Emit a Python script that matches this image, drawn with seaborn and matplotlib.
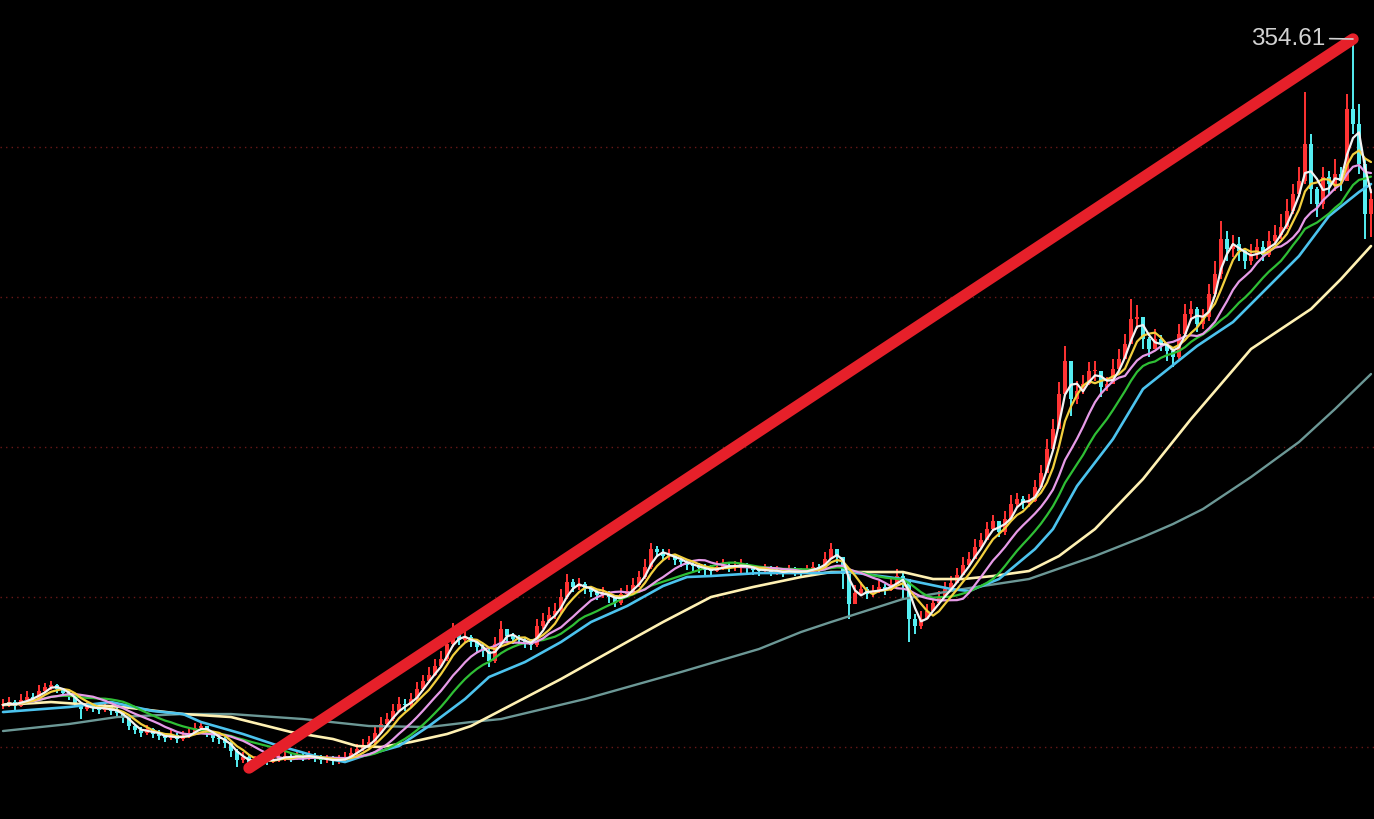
import numpy as np
import pandas as pd
import matplotlib
matplotlib.use("Agg")
import matplotlib.pyplot as plt
import seaborn as sns

# ---------------- data (prices) ----------------
close = [
    88.2, 89.4, 87.8, 90.2, 91.4, 90.6, 93.8, 95.4, 96.2, 94.6,
    93.0, 91.8, 89.0, 86.6, 87.8, 87.0, 86.2, 87.4, 85.8, 85.0,
    83.0, 79.8, 78.2, 77.0, 78.6, 76.6, 75.8, 75.0, 76.2, 74.6,
    75.8, 77.0, 79.0, 79.8, 77.0, 75.0, 74.6, 73.0, 69.8, 66.2,
    67.4, 65.0, 65.8, 66.6, 65.4, 66.6, 67.4, 67.8, 67.0, 68.2,
    67.4, 67.8, 67.0, 66.2, 66.6, 65.8, 66.2, 67.4, 69.0, 70.6,
    72.2, 73.4, 77.0, 80.6, 82.6, 85.8, 88.6, 88.2, 90.6, 94.6,
    97.8, 100.2, 103.8, 106.6, 112.6, 117.0, 114.2, 115.4, 113.4, 111.4,
    109.8, 105.8, 112.6, 118.6, 115.8, 114.6, 114.2, 113.0, 112.2, 119.8,
    121.8, 124.2, 125.8, 131.4, 137.4, 135.4, 136.6, 134.6, 133.4, 132.2,
    133.0, 131.4, 129.0, 132.6, 133.8, 136.2, 139.4, 143.4, 150.6, 149.4,
    147.8, 148.2, 146.2, 145.4, 144.2, 143.8, 143.0, 142.2, 141.8, 143.4,
    144.2, 143.4, 143.8, 144.6, 143.0, 142.2, 141.8, 142.6, 141.4, 141.8,
    141.0, 142.2, 141.4, 141.0, 142.6, 143.4, 143.0, 146.6, 150.6, 147.4,
    140.6, 128.6, 133.0, 134.6, 132.6, 133.8, 135.4, 134.2, 136.6, 139.8,
    138.6, 122.6, 119.8, 122.6, 125.8, 129.0, 131.4, 134.6, 137.0, 140.2,
    144.2, 146.6, 151.4, 154.2, 158.6, 161.8, 157.4, 162.6, 168.6, 170.6,
    169.0, 169.8, 175.4, 181.0, 190.6, 198.6, 212.6, 225.8, 210.6, 213.8,
    216.6, 221.8, 221.8, 215.4, 216.6, 222.6, 226.6, 232.6, 242.6, 243.4,
    234.6, 230.6, 234.6, 232.6, 229.8, 227.4, 236.6, 244.6, 246.6, 240.6,
    243.4, 252.6, 260.6, 274.6, 270.6, 272.6, 269.8, 265.8, 268.6, 271.4,
    268.2, 273.8, 276.2, 279.4, 285.8, 292.6, 297.8, 312.6, 294.6, 288.6,
    299.4, 296.6, 300.6, 297.8, 326.6, 320.6, 304.6, 284.6, 290.6,
]
high = [
    90.6, 91.4, 90.2, 92.6, 93.8, 93.0, 96.2, 97.0, 97.8, 96.6,
    95.0, 94.2, 92.2, 89.0, 89.8, 89.0, 88.2, 89.4, 87.8, 87.0,
    85.8, 83.4, 80.6, 79.4, 80.2, 79.0, 78.2, 77.0, 78.2, 77.0,
    77.8, 79.0, 81.0, 81.8, 79.4, 77.4, 76.6, 75.4, 73.8, 70.6,
    69.4, 68.2, 67.8, 68.6, 67.8, 68.6, 69.4, 69.8, 69.0, 70.2,
    69.4, 69.8, 69.0, 68.2, 68.2, 67.8, 68.2, 69.4, 71.0, 72.6,
    74.6, 75.8, 79.4, 83.4, 85.0, 88.6, 91.4, 90.6, 93.0, 97.4,
    100.2, 103.4, 106.6, 109.8, 115.8, 121.0, 117.4, 117.8, 116.2, 114.2,
    112.6, 110.6, 115.4, 121.8, 118.6, 117.0, 116.2, 115.4, 114.6, 122.6,
    125.0, 127.4, 129.0, 134.6, 140.6, 138.6, 139.0, 137.4, 135.8, 134.6,
    135.4, 133.8, 132.2, 135.0, 136.2, 139.0, 141.8, 146.6, 153.0, 151.8,
    150.6, 150.6, 148.6, 147.4, 146.2, 146.2, 145.0, 144.6, 144.2, 145.8,
    146.6, 145.4, 145.8, 146.6, 145.0, 144.2, 143.8, 144.6, 143.8, 143.8,
    143.0, 144.2, 143.4, 143.0, 144.2, 145.4, 144.6, 149.4, 153.0, 149.8,
    145.0, 136.6, 136.2, 137.4, 135.4, 136.2, 137.8, 136.6, 139.0, 142.6,
    141.8, 130.6, 124.6, 125.8, 128.6, 131.4, 133.8, 137.4, 139.8, 143.0,
    147.4, 149.4, 154.6, 157.0, 161.4, 164.2, 160.2, 165.8, 172.2, 173.0,
    171.8, 172.6, 178.2, 184.2, 194.6, 202.6, 217.4, 231.8, 222.6, 217.8,
    220.2, 225.4, 225.8, 221.0, 219.4, 226.6, 230.6, 236.6, 250.6, 248.2,
    241.8, 235.4, 238.6, 236.2, 233.4, 231.4, 240.6, 248.6, 249.8, 247.4,
    246.6, 256.6, 265.8, 281.8, 277.8, 276.2, 275.4, 270.6, 272.6, 274.6,
    273.8, 277.8, 280.2, 284.6, 290.6, 296.6, 303.4, 333.4, 316.6, 295.4,
    303.4, 301.8, 306.6, 303.4, 332.6, 354.61, 328.6, 306.6, 294.6,
]
low = [
    86.6, 87.4, 86.2, 87.4, 89.4, 89.0, 90.2, 93.0, 94.2, 93.0,
    91.4, 90.2, 87.4, 82.6, 85.8, 85.4, 84.6, 85.4, 84.2, 83.4,
    81.0, 78.2, 76.6, 75.4, 76.2, 75.0, 74.2, 73.4, 74.2, 73.0,
    73.8, 75.0, 76.6, 77.8, 75.4, 73.4, 72.6, 71.0, 67.4, 63.4,
    65.0, 63.0, 63.8, 64.6, 64.2, 65.0, 65.4, 65.8, 65.4, 66.2,
    65.8, 66.2, 65.4, 64.6, 65.0, 64.2, 64.6, 65.4, 66.6, 68.2,
    69.8, 71.0, 72.6, 76.6, 79.8, 81.8, 85.4, 85.8, 87.4, 89.8,
    93.8, 97.0, 99.8, 103.4, 105.8, 111.4, 112.2, 113.0, 111.4, 109.0,
    107.4, 103.4, 105.0, 112.2, 113.8, 112.6, 112.2, 111.0, 110.2, 111.4,
    118.6, 121.0, 122.6, 125.0, 130.6, 133.4, 134.2, 132.6, 131.4, 130.2,
    131.0, 129.0, 127.4, 128.2, 131.8, 133.0, 135.4, 138.6, 142.6, 147.4,
    145.8, 146.2, 144.2, 143.4, 142.2, 141.8, 141.0, 139.4, 140.2, 141.4,
    142.2, 141.4, 141.8, 140.6, 141.0, 140.2, 139.8, 140.6, 139.8, 140.2,
    139.4, 140.6, 139.8, 139.4, 140.6, 141.4, 141.0, 142.6, 146.6, 145.0,
    134.6, 122.6, 129.8, 131.8, 130.6, 131.4, 133.0, 132.2, 133.8, 137.0,
    130.6, 113.4, 116.6, 118.6, 122.6, 125.8, 128.2, 131.4, 134.2, 137.4,
    141.0, 143.8, 147.8, 151.0, 154.6, 157.8, 155.4, 156.2, 163.4, 167.4,
    166.6, 167.4, 169.4, 175.4, 182.6, 191.4, 200.6, 214.6, 203.8, 208.6,
    212.6, 216.2, 217.8, 211.4, 213.8, 217.0, 221.8, 226.6, 232.6, 238.6,
    230.6, 227.4, 230.6, 229.8, 225.8, 223.4, 226.6, 235.4, 241.8, 237.4,
    238.6, 241.8, 251.4, 258.6, 265.8, 267.4, 265.8, 262.6, 264.2, 266.6,
    265.8, 267.4, 272.2, 274.6, 278.6, 284.6, 291.4, 296.6, 288.6, 283.4,
    286.6, 292.6, 293.8, 293.8, 297.8, 316.6, 300.6, 274.6, 275.4,
]

# long moving averages (candle index, value)
ma60_x = [0, 11, 18, 25, 30, 33, 40, 45, 52, 57, 60, 66, 71, 77, 81, 87, 93, 98, 104, 110,
          114, 118, 126, 136, 141, 150, 158, 161, 166, 172, 175, 179, 185, 190, 199, 205,
          210, 216, 221, 226, 228]
ma60_v = [85.4, 87.4, 89.4, 85.8, 84.6, 81.4, 76.6, 72.6, 67.8, 65.4, 67.8, 71.8, 79.8, 90.6,
          99.4, 105.4, 113.4, 121.4, 127.8, 135.8, 139.4, 139.8, 141.0, 141.0, 141.4, 138.6,
          134.6, 133.8, 138.6, 150.6, 158.6, 175.8, 194.6, 214.6, 231.8, 241.4, 253.4, 267.8,
          283.8, 293.4, 296.6]
ma120_x = [0, 8, 20, 30, 38, 48, 55, 59, 63, 68, 74, 78, 93, 104, 110, 118, 125, 133, 138,
           150, 155, 160, 165, 171, 176, 182, 190, 198, 208, 218, 223, 228]
ma120_v = [88.2, 89.4, 87.4, 84.6, 83.4, 77.4, 74.6, 71.8, 71.4, 73.4, 76.6, 79.8, 98.6, 113.4,
           121.4, 131.4, 135.4, 139.4, 141.4, 141.4, 138.6, 138.6, 139.8, 141.8, 147.8, 158.6,
           178.6, 202.6, 230.6, 246.6, 258.6, 271.8]
ma250_x = [0, 11, 19, 30, 38, 50, 61, 71, 78, 83, 97, 113, 126, 133, 138, 150, 160, 171, 182,
           190, 195, 200, 208, 216, 222, 228]
ma250_v = [77.8, 80.6, 83.4, 84.6, 84.6, 82.6, 79.8, 79.4, 81.4, 82.6, 90.6, 101.4, 110.6,
           117.4, 121.4, 130.6, 134.6, 138.6, 147.8, 155.4, 160.6, 166.6, 179.4, 193.4, 206.6,
           220.6]

short_windows = [3, 5, 10, 15]

# ---------------- style ----------------
sns.set_theme(style="dark")
plt.rcParams['font.family'] = ['Liberation Sans', 'DejaVu Sans']

BG = 'black'
UP = '#ff3434'
DOWN = '#55eef2'
short_colors = {3: '#f2f2f2', 5: '#f3d03e', 10: '#e79be8', 15: '#2fbf35'}

fig = plt.figure(figsize=(13.74, 8.2), dpi=100, facecolor=BG)
ax = fig.add_axes([0, 0, 1, 1])
ax.set_facecolor(BG)

n = len(close)
idx = np.arange(n)
c = np.array(close)
o = np.r_[c[0], c[:-1]]
h = np.array(high)
l = np.array(low)

top = 370.61
ax.set_ylim(top - 0.4 * 820, top)
ax.set_xlim(-0.5, n - 0.5)

# dotted grid lines
for g in [311.41, 251.41, 191.41, 131.41, 71.41]:
    ax.axhline(g, color='#6a1818', lw=1.0, ls=(0, (1, 3)), zorder=0)

# candles
up = c >= o
cols = np.where(up, UP, DOWN)
ax.vlines(idx, l, h, colors=cols, lw=1.4, zorder=2)
bottoms = np.minimum(o, c)
heights = np.maximum(np.abs(c - o), 0.35)
ax.bar(idx, heights, bottom=bottoms, width=0.72, color=cols, linewidth=0, zorder=2)

# moving averages
sns.lineplot(x=ma250_x, y=ma250_v, ax=ax, color='#6c9896', lw=1.7, zorder=3)
sns.lineplot(x=ma120_x, y=ma120_v, ax=ax, color='#fff1b3', lw=1.9, zorder=3)
sns.lineplot(x=ma60_x, y=ma60_v, ax=ax, color='#4cc3ee', lw=1.9, zorder=3)
s = pd.Series(c)
for w in sorted(short_windows, reverse=True):
    ma = s.rolling(w, min_periods=1).mean()
    sns.lineplot(x=idx, y=ma.values, ax=ax, color=short_colors[w], lw=1.6, zorder=4)

# red trend line from lowest low to highest high
imin = int(np.argmin(l))
imax = int(np.argmax(h))
ax.plot([imin, imax], [l[imin], h[imax]], color='#e6202a', lw=8.2,
        solid_capstyle='round', zorder=10)

# peak label
ax.annotate(f"{h[imax]:.2f}", xy=(imax, h[imax]), xytext=(-28, 1),
            textcoords='offset pixels', ha='right', va='center',
            color='#d2d2d2', fontsize=17.5,
            arrowprops=dict(arrowstyle='-', color='#d2d2d2', lw=1.2,
                            shrinkA=1, shrinkB=0),
            zorder=11)

ax.set_xticks([])
ax.set_yticks([])
ax.set_xlabel('')
ax.set_ylabel('')
for sp in ax.spines.values():
    sp.set_visible(False)
ax.grid(False)

fig.savefig('out.png', dpi=100, facecolor=BG)
